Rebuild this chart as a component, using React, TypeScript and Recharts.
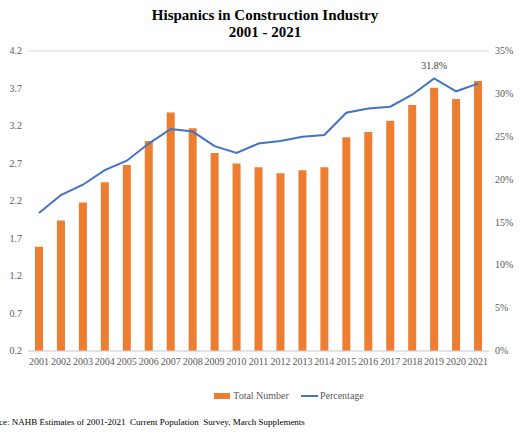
import React from 'react';
import {
  ComposedChart,
  Bar,
  Line,
  XAxis,
  YAxis,
  CartesianGrid,
  LabelList,
} from 'recharts';

const years = [
  '2001', '2002', '2003', '2004', '2005', '2006', '2007', '2008', '2009', '2010', '2011',
  '2012', '2013', '2014', '2015', '2016', '2017', '2018', '2019', '2020', '2021',
];
// millions of workers
const totalNumber = [
  1.59, 1.94, 2.18, 2.45, 2.68, 3.0, 3.38, 3.17, 2.84, 2.7, 2.65,
  2.57, 2.61, 2.65, 3.05, 3.12, 3.27, 3.48, 3.71, 3.56, 3.8,
];
// share of construction workforce, %
const percentage = [
  16.1, 18.2, 19.4, 21.1, 22.2, 24.2, 25.9, 25.6, 23.9, 23.1, 24.2,
  24.5, 25.0, 25.2, 27.8, 28.3, 28.5, 29.9, 31.8, 30.3, 31.2,
];
const leftTicks = [0.2, 0.7, 1.2, 1.7, 2.2, 2.7, 3.2, 3.7, 4.2];
const rightTicks = [0, 5, 10, 15, 20, 25, 30, 35];

const data = years.map((year, i) => ({
  year,
  total: totalNumber[i],
  pct: percentage[i],
}));

const peakIndex = percentage.indexOf(Math.max(...percentage));

const FONT = '"Liberation Serif", "Times New Roman", serif';

// plain svg tick so the serif font is kept
function makeTick(anchor: 'start' | 'middle' | 'end', fmt: (v: any) => string) {
  return function Tick(props: any) {
    const { x, y, payload, verticalAnchor } = props;
    const dy = verticalAnchor === 'start' ? '0.71em' : '0.32em';
    return (
      <text
        x={x}
        y={y}
        dy={dy}
        textAnchor={anchor}
        fontSize={10}
        fill="#595959"
        style={{ fontFamily: FONT }}
      >
        {fmt(payload.value)}
      </text>
    );
  };
}

const XTick = makeTick('middle', (v) => String(v));
const LeftTick = makeTick('end', (v) => Number(v).toFixed(1));
const RightTick = makeTick('start', (v) => `${v}%`);

function PeakLabel(props: any) {
  const { x, y, index, value } = props;
  if (index !== peakIndex) return null;
  return (
    <text x={x} y={y - 9} textAnchor="middle" fontSize={10} fill="#404040" style={{ fontFamily: FONT }}>
      {`${value.toFixed(1)}%`}
    </text>
  );
}

export default function App() {
  return (
    <div
      style={{
        position: 'absolute',
        left: 0,
        top: 0,
        width: 530,
        height: 442,
        overflow: 'hidden',
        background: '#fff',
        fontFamily: FONT,
      }}
    >
      <div
        style={{
          position: 'absolute',
          top: 7,
          left: 0,
          width: 530,
          textAlign: 'center',
          fontWeight: 'bold',
          fontSize: 15,
          lineHeight: '17px',
          color: '#000',
        }}
      >
        Hispanics in Construction Industry
        <br />
        2001 - 2021
      </div>

      <div style={{ position: 'absolute', left: 0, top: 0 }}>
        <ComposedChart
          width={530}
          height={390}
          data={data}
          margin={{ top: 51, right: 0, left: 0, bottom: 19 }}
          style={{ fontFamily: FONT }}
        >
          <CartesianGrid vertical={false} stroke="#d9d9d9" />
          <XAxis
            dataKey="year"
            axisLine={{ stroke: '#d9d9d9' }}
            tickLine={false}
            tickSize={0}
            tickMargin={7}
            interval={0}
            height={20}
            tick={XTick}
          />
          <YAxis
            yAxisId="left"
            domain={[0.2, 4.2]}
            ticks={leftTicks}
            axisLine={false}
            tickLine={false}
            tickSize={0}
            tickMargin={6}
            width={28}
            tick={LeftTick}
          />
          <YAxis
            yAxisId="right"
            orientation="right"
            domain={[0, 35]}
            ticks={rightTicks}
            axisLine={false}
            tickLine={false}
            tickSize={0}
            tickMargin={6}
            width={41}
            tick={RightTick}
          />
          <Bar
            yAxisId="left"
            dataKey="total"
            name="Total Number"
            fill="#ED7D31"
            barSize={8}
            isAnimationActive={false}
          />
          <Line
            yAxisId="right"
            dataKey="pct"
            name="Percentage"
            type="linear"
            stroke="#4472C4"
            strokeWidth={2}
            dot={false}
            isAnimationActive={false}
          >
            <LabelList dataKey="pct" content={PeakLabel} />
          </Line>
        </ComposedChart>
      </div>

      <div
        style={{
          position: 'absolute',
          top: 390,
          left: 0,
          width: 530,
          display: 'flex',
          justifyContent: 'center',
          alignItems: 'center',
          fontSize: 10,
          color: '#595959',
          paddingLeft: 48,
          boxSizing: 'border-box',
        }}
      >
        <span style={{ display: 'inline-block', width: 16, height: 6, background: '#ED7D31', marginRight: 3 }} />
        <span style={{ marginRight: 12 }}>Total Number</span>
        <span style={{ display: 'inline-block', width: 17, height: 2, background: '#4472C4', marginRight: 2 }} />
        <span>Percentage</span>
      </div>

      <div
        style={{
          position: 'absolute',
          top: 417,
          left: -18,
          fontSize: 9,
          color: '#000',
          whiteSpace: 'nowrap',
        }}
      >
        Source: NAHB Estimates of 2001-2021&nbsp; Current Population&nbsp; Survey, March Supplements
      </div>
    </div>
  );
}
